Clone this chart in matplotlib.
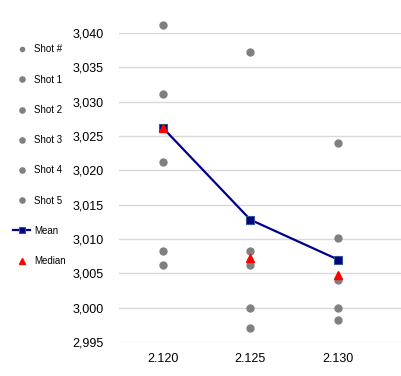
import numpy as np
import matplotlib
matplotlib.use("Agg")
import matplotlib.pyplot as plt

plt.rcParams["font.family"] = ["Liberation Sans", "DejaVu Sans"]

# Data
categories = ["2.120", "2.125", "2.130"]
shot_1 = [3041.1, 3037.2, 3024.0]
shot_2 = [3031.1, 3008.2, 3010.1]
shot_3 = [3021.2, 3006.2, 3004.1]
shot_4 = [3008.2, 3000.0, 3000.0]
shot_5 = [3006.2, 2997.1, 2998.2]
mean = [3026.2, 3012.8, 3007.0]
median = [3026.1, 3007.2, 3004.7]
y_ticks = np.arange(2995, 3041, 5)

x = np.arange(len(categories))

fig = plt.figure(figsize=(4.02, 3.76), dpi=100)
ax = fig.add_axes([119 / 402, 1 - 342 / 376, 1 - 119 / 402, (342 - 33) / 376])

gray = "#808080"
handles = []
h, = ax.plot([], [], "o", color=gray, markersize=4, label="Shot #")
handles.append(h)
for i, s in enumerate([shot_1, shot_2, shot_3, shot_4, shot_5]):
    h, = ax.plot(x, s, "o", color=gray, markersize=5, clip_on=False,
                 label="Shot %d" % (i + 1), zorder=3)
    handles.append(h)
h, = ax.plot(x, mean, "-s", color="#000090", linewidth=1.6, markersize=5.5,
             markerfacecolor="#000080", markeredgecolor="#2f5597",
             markeredgewidth=0.8, label="Mean", zorder=4, clip_on=False)
handles.append(h)
h, = ax.plot(x, median, "^", color="#ff0000", markersize=5.5, label="Median",
             zorder=5, clip_on=False)
handles.append(h)

ax.set_xlim(-0.5, 2.73)
ax.set_ylim(2995, 3040)
ax.set_yticks(y_ticks)
ax.set_yticklabels(["{:,}".format(v) for v in y_ticks], fontsize=9)
ax.set_xticks(x)
ax.set_xticklabels(categories, fontsize=9)
ax.tick_params(axis="x", length=0, pad=8)
ax.tick_params(axis="y", length=0, pad=11)
ax.grid(axis="y", color="#d9d9d9", linewidth=1)
ax.set_axisbelow(True)
for sp in ax.spines.values():
    sp.set_visible(False)

leg = fig.legend(handles=handles, loc="upper left", bbox_to_anchor=(0.01, 0.905),
                 frameon=False, fontsize=7, labelspacing=2.08,
                 handlelength=1.8, handletextpad=0.4, markerscale=0.75)

fig.savefig("out.png", dpi=100)
